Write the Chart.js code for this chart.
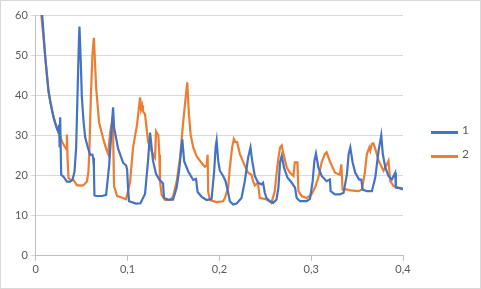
<!DOCTYPE html>
<html><head><meta charset="utf-8">
<script src="https://cdn.jsdelivr.net/npm/chart.js@4/dist/chart.umd.min.js"></script>
<style>
html,body{margin:0;padding:0;background:#fff;}
#wrap{position:relative;width:481px;height:289px;}
#frame{position:absolute;left:0;top:0;width:481px;height:289px;box-sizing:border-box;border:1px solid #d9d9d9;pointer-events:none;}
.lg{position:absolute;left:431px;height:20px;width:50px;}
.lg .sw{position:absolute;left:0;top:9px;width:27px;height:3px;}
.lg .tx{position:absolute;left:31px;top:0;line-height:20px;font:12px Lato,'Open Sans',sans-serif;color:#595959;}
</style></head>
<body>
<div id="wrap"><canvas id="c" width="481" height="289"></canvas><div id="legend"></div><div id="frame"></div></div>
<script>
const seriesNames = ['1', '2'];
const seriesColors = ['#4472C4', '#ED7D31'];
const xTickLabels = ['0', '0,1', '0,2', '0,3', '0,4'];
const yTickLabels = ['0', '10', '20', '30', '40', '50', '60'];

const x1 = [0.007,0.0103,0.0122,0.0139,0.0158,0.0176,0.0193,0.0212,0.023,0.0248,0.0255,0.026,0.0266,0.0277,0.0302,0.0339,0.0375,0.04,0.0422,0.044,0.0454,0.047,0.0476,0.0491,0.0502,0.052,0.0538,0.0567,0.0592,0.0617,0.0625,0.0633,0.0639,0.0658,0.0723,0.0766,0.0799,0.0842,0.0853,0.0897,0.0951,0.0984,0.0995,0.1005,0.1016,0.1092,0.114,0.119,0.1223,0.1245,0.1277,0.131,0.1346,0.1386,0.1397,0.144,0.1495,0.1535,0.156,0.1596,0.1617,0.1661,0.1715,0.1745,0.1763,0.1807,0.1861,0.1915,0.1943,0.1959,0.197,0.1987,0.2005,0.2041,0.2067,0.2089,0.2114,0.215,0.2187,0.2241,0.2277,0.2313,0.2339,0.2357,0.2386,0.2422,0.2459,0.2476,0.2495,0.2513,0.2549,0.2585,0.2622,0.2643,0.2661,0.2679,0.2704,0.2741,0.2788,0.2824,0.2842,0.2878,0.2951,0.2987,0.3016,0.3035,0.3052,0.3078,0.3114,0.3168,0.3204,0.3212,0.3259,0.3313,0.3353,0.3389,0.3408,0.3426,0.3451,0.348,0.3523,0.3546,0.356,0.3607,0.3661,0.3698,0.3734,0.3763,0.378,0.3807,0.3842,0.3878,0.3915,0.3922,0.397,0.4];
const y1 = [60,49.6,45,41,38.4,36.3,34.5,33,31.7,30.8,32.7,27,34.5,20.2,19.7,18.5,18.5,18.9,21,27,39.5,53.7,57.1,47.9,39.5,33.6,29.5,27,25.2,25.2,24.4,22,15.1,14.9,14.9,15.2,22.4,37,32,26.7,23.2,22.5,21.5,17,13.6,13,13.1,15.4,23.7,30.7,23.7,20.4,19,18,14.4,14,14,17,21,29,23.5,21,18.9,19.2,15.9,14.7,13.9,14.2,21,27,28.7,23.7,21.2,19.9,18.6,16.5,13.6,12.8,13,14.4,18.6,24.5,27,23.7,19.9,18.2,17.8,18.2,15.7,14.4,13.6,13.2,14,17,23.3,24.9,22,19.5,18.2,17,14.4,13.6,13.6,14.2,18.6,23.7,25.5,22,19.9,18.6,19,16.1,15.3,15.3,15.7,20.3,25.4,27,23.3,20.7,19,19,16.5,16.1,16.1,19.5,26.2,30,25.4,22,19.9,19,20.7,17,16.8,16.5];

const x2 = [0.006,0.008,0.0103,0.0122,0.0139,0.0158,0.0176,0.0193,0.0212,0.023,0.0248,0.0266,0.0285,0.0313,0.0335,0.0339,0.0346,0.0357,0.0375,0.0411,0.0448,0.0484,0.052,0.0557,0.0574,0.0585,0.06,0.0617,0.0633,0.0658,0.069,0.0734,0.0766,0.0788,0.081,0.0832,0.0842,0.0853,0.0886,0.0929,0.0984,0.1027,0.106,0.1103,0.1136,0.1147,0.1158,0.1168,0.119,0.1223,0.1277,0.1299,0.131,0.1335,0.1346,0.1353,0.1372,0.1408,0.1462,0.1495,0.1535,0.1571,0.1607,0.1633,0.165,0.1668,0.1687,0.1715,0.1752,0.1807,0.1842,0.1861,0.1872,0.1878,0.1897,0.197,0.2041,0.206,0.2096,0.2114,0.2139,0.2158,0.2176,0.2193,0.2223,0.2277,0.2313,0.235,0.2367,0.2386,0.2408,0.2422,0.244,0.2495,0.2549,0.2567,0.2603,0.2622,0.2639,0.2661,0.2679,0.2698,0.2734,0.277,0.2807,0.2821,0.285,0.2861,0.2897,0.2951,0.3005,0.3041,0.3078,0.3114,0.315,0.3168,0.3204,0.3259,0.3313,0.3328,0.3342,0.3372,0.3426,0.3516,0.3552,0.3582,0.3607,0.3633,0.3643,0.3661,0.3679,0.3704,0.3734,0.3788,0.3824,0.3842,0.3861,0.3897,0.3951,0.4];
const y2 = [60,55.4,49.6,45,41,38.6,36.5,34.8,33.2,32,30.7,29.8,28.5,27.3,26.5,30.2,24.4,19.4,19,18.9,17.6,17.5,17.6,18.5,21,27,39.5,50,54.3,41.8,33.2,29.2,26.7,25.4,30.7,33.7,31,17.4,14.9,14.6,14.1,18.4,27,32.7,39.5,36.5,37.5,36,35.3,28.5,25.2,24.4,31,30,25.2,18.5,15.1,13.9,13.9,14.7,18.5,24.4,33.6,39.5,43.2,35.3,30.2,27,24.8,23.1,22.2,22.5,25.2,15.9,13.9,13.4,13.6,14.4,17,22,27,29.1,28.3,28.3,25.4,22.4,20.7,20.2,18.6,17.5,18,17.8,14.4,14.2,13.6,13.2,16.1,20.3,23.7,27,27.5,25.4,22,20.7,19.9,23.3,23.3,16.1,14.9,14.4,15.3,17,19.5,23.3,25.4,25.8,23.5,20.7,20.2,22.8,16.5,16.6,16.3,16.1,16.5,20.3,25.4,27,26.2,27.9,28,26.2,23.7,21.2,22.8,23.7,18.6,17.4,17,16.8];

const toPts = (xs, ys) => xs.map((x, i) => ({x: x, y: ys[i]}));
const FONT = "Lato, 'Open Sans', sans-serif";

const chart = new Chart(document.getElementById('c'), {
  type: 'scatter',
  data: {
    datasets: [
      {label: seriesNames[0], data: toPts(x1, y1), showLine: true, borderColor: seriesColors[0], backgroundColor: seriesColors[0], borderWidth: 2.2, pointRadius: 0, tension: 0},
      {label: seriesNames[1], data: toPts(x2, y2), showLine: true, borderColor: seriesColors[1], backgroundColor: seriesColors[1], borderWidth: 2.2, pointRadius: 0, tension: 0}
    ]
  },
  options: {
    responsive: false,
    animation: false,
    layout: {padding: {left: 12, right: 78, top: 15, bottom: 11}},
    plugins: {
      tooltip: {enabled: false},
      legend: {display: false}
    },
    scales: {
      x: {
        type: 'linear', min: 0, max: 0.4,
        border: {display: true, color: '#bfbfbf'},
        grid: {display: true, drawOnChartArea: false, drawTicks: true, tickLength: 5, color: '#bfbfbf'},
        ticks: {stepSize: 0.1, color: '#595959', font: {family: FONT, size: 11}, padding: 2, maxRotation: 0,
          callback: (v, i) => xTickLabels[i]}
      },
      y: {
        min: 0, max: 60,
        border: {display: true, color: '#bfbfbf'},
        grid: {color: '#d9d9d9', tickLength: 5},
        ticks: {stepSize: 10, color: '#595959', font: {family: FONT, size: 11}, padding: 3,
          callback: (v, i) => yTickLabels[i]}
      }
    }
  }
});

// legend built from the series names/colours
const legendTops = [122, 146];
const lg = document.getElementById('legend');
seriesNames.forEach((n, i) => {
  const d = document.createElement('div');
  d.className = 'lg';
  d.style.top = legendTops[i] + 'px';
  d.innerHTML = '<div class="sw" style="background:' + seriesColors[i] + '"></div><div class="tx">' + n + '</div>';
  lg.appendChild(d);
});
</script>
</body></html>
